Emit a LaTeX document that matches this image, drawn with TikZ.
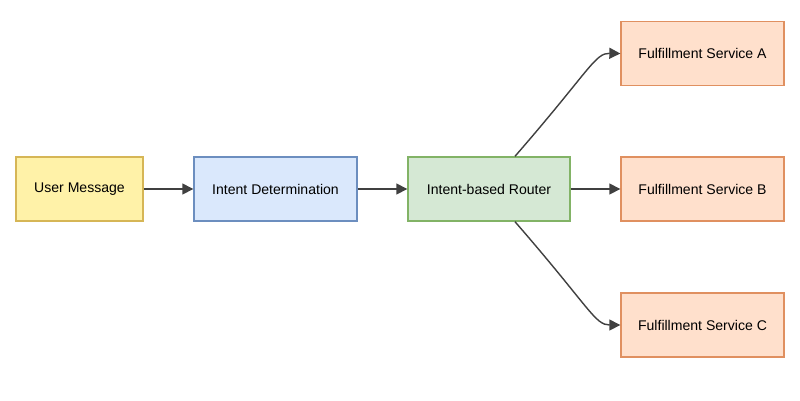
\documentclass[tikz,border=0pt]{standalone}
\usepackage{fontspec}
\setmainfont{Liberation Sans}
\usetikzlibrary{positioning}
\usetikzlibrary{arrows.meta}
\definecolor{msgfill}{HTML}{FFF2A8}
\definecolor{msgdraw}{HTML}{D6B656}
\definecolor{detfill}{HTML}{DAE8FC}
\definecolor{detdraw}{HTML}{6C8EBF}
\definecolor{rtfill}{HTML}{D5E8D4}
\definecolor{rtdraw}{HTML}{82B366}
\definecolor{svcfill}{HTML}{FFE0CC}
\definecolor{svcdraw}{HTML}{E09060}
\begin{document}
\begin{tikzpicture}[x=0.02cm, y=-0.02cm,
  box/.style={draw, thick, align=center, minimum height=1.28cm, font=\fontsize{8}{10}\selectfont},
  arrow/.style={-{Triangle[length=2.2mm,width=2.2mm]}, draw=black!75, thick}
]
\useasboundingbox (0,0) rectangle (800,400);
% Nodes
\node[box, fill=msgfill, draw=msgdraw, minimum width=2.54cm] (msg) at (79.5,189) {User Message};
\node[box, fill=detfill, draw=detdraw, minimum width=3.26cm] (det) at (275.5,189) {Intent Determination};
\node[box, fill=rtfill, draw=rtdraw, minimum width=3.24cm] (rt) at (489,189) {Intent-based Router};
\node[box, fill=svcfill, draw=svcdraw, minimum width=3.26cm] (svcA) at (702.5,53.5) {Fulfillment Service A};
\node[box, fill=svcfill, draw=svcdraw, minimum width=3.26cm] (svcB) at (702.5,189) {Fulfillment Service B};
\node[box, fill=svcfill, draw=svcdraw, minimum width=3.26cm] (svcC) at (702.5,325) {Fulfillment Service C};

% Edges
\draw[arrow] (msg) -- (det);
\draw[arrow] (det) -- (rt);
\draw[arrow] (rt) -- (svcB);
\draw[arrow] ([xshift=0.52cm]rt.north) .. controls (590,70) and (595,53) .. (svcA.west);
\draw[arrow] ([xshift=0.52cm]rt.south) .. controls (590,308) and (595,325) .. (svcC.west);
\end{tikzpicture}
\end{document}
